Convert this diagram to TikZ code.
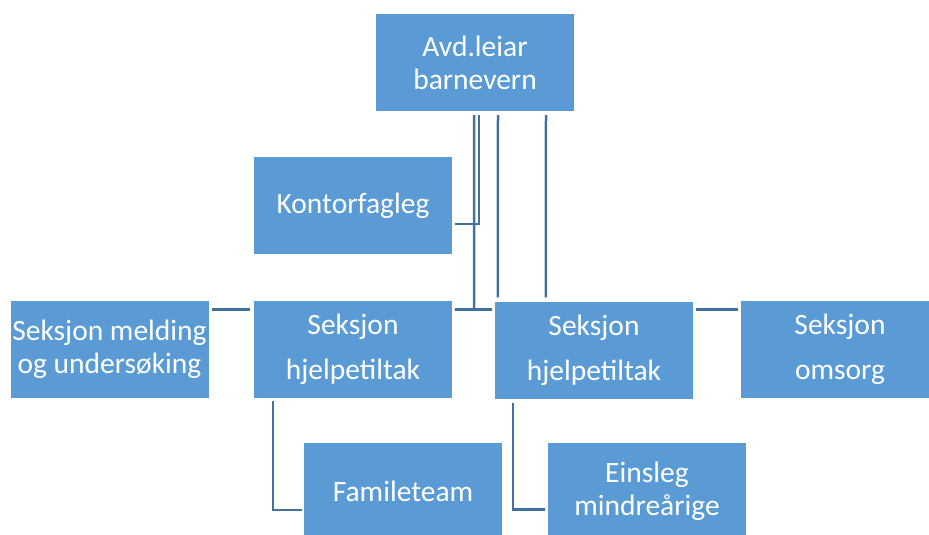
\documentclass[tikz,border=0pt]{standalone}
\usepackage{fontspec}
\setmainfont{Carlito}
\usepackage{tikz}
\usepackage{xcolor}
\definecolor{boxblue}{HTML}{5B9BD5}
\definecolor{linkblue}{HTML}{41719C}
\usetikzlibrary{calc}

\begin{document}
\begin{tikzpicture}[x=1pt, y=-1pt,
  box/.style={fill=boxblue, text=white, minimum width=198pt, minimum height=97pt, inner sep=0pt, align=center, font=\fontsize{29.5}{33}\selectfont},
  link/.style={draw=linkblue, line width=2.5pt}]
\useasboundingbox (0,0) rectangle (929,535);
\foreach \name/\x/\y/\txt in {top/475/62.5/{Avd.leiar\\barnevern}, kontor/353/205.5/{Kontorfagleg}, melding/109.5/349/{Seksjon melding\\og undersøking}, hjelpL/353/349/{Seksjon\\[12pt]hjelpetiltak}, hjelpR/594/350/{Seksjon\\[12pt]hjelpetiltak}, omsorg/840/349/{Seksjon\\[12pt]omsorg}, famile/403/491.5/{Famileteam}, einsleg/647/491.5/{Einsleg\\mindreårige}}{
\node[box] (\name) at (\x,\y) {\txt};
}
\draw[link] ($(top.south)+(-1,4)$) -- ($(hjelpL.north east)+(22,9)$);
\draw[link] ($(hjelpL.north east)+(3,9)$) -- ($(hjelpR.north west)+(-3,8)$);
\draw[link] ($(top.south)+(4,4)$) |- ($(kontor.east)+(3,18.5)$);
\draw[link] ($(top.south)+(23,4)$) -- ($(hjelpR.north west)+(3,-4)$);
\draw[link] ($(top.south)+(71,4)$) -- ($(hjelpR.north west)+(51,-4)$);
\draw[link] ($(melding.north east)+(3,9)$) -- ($(hjelpL.north west)+(-4,9)$);
\draw[link] ($(hjelpR.north east)+(3,8)$) -- ($(omsorg.north west)+(-3,9)$);
\draw[link] ($(hjelpL.south west)+(19,3)$) |- ($(famile.west)+(-2,18.5)$);
\draw[link] ($(hjelpR.south west)+(18,4)$) |- ($(einsleg.west)+(-3,18)$);
\end{tikzpicture}
\end{document}
